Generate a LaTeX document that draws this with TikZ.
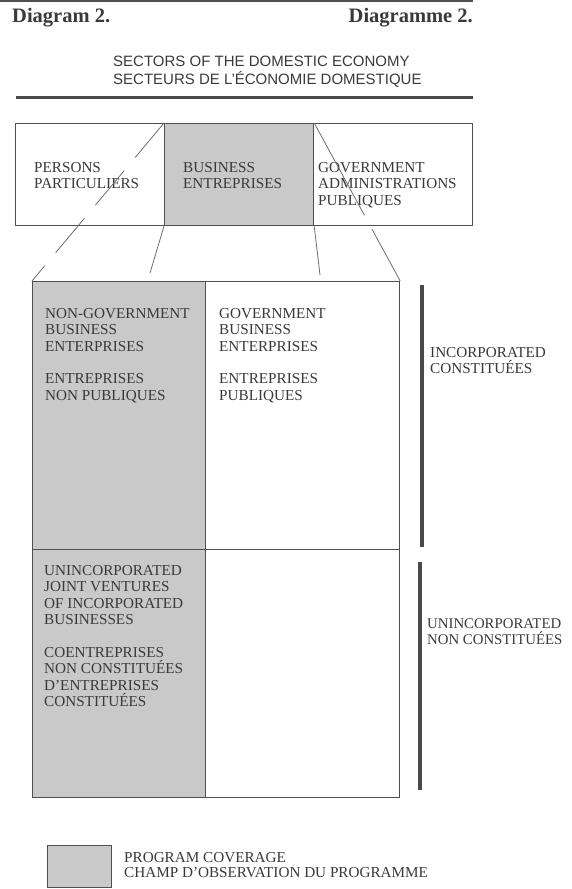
\documentclass[tikz,border=0pt]{standalone}
\usepackage{fontspec}
\setmainfont{Liberation Serif}
\setsansfont{Liberation Sans}
\definecolor{shadegray}{HTML}{C9C9C9}
\definecolor{edgegray}{HTML}{505050}
\definecolor{inkgray}{HTML}{3A3A3A}
\definecolor{linegray}{HTML}{6E6E6E}
\definecolor{bargray}{HTML}{4A4A4A}
\begin{document}
\begin{tikzpicture}[x=1pt,y=-1pt,
  cell/.style={rectangle, draw=edgegray, line width=1.2pt, inner sep=0pt, anchor=north west},
  shaded/.style={fill=shadegray},
  txt/.style={anchor=north west, inner sep=0pt, align=left, text=inkgray, font=\fontsize{15.2}{16.4}\selectfont},
  legtxt/.style={anchor=north west, inner sep=0pt, align=left, text=inkgray, font=\fontsize{15.2}{15}\selectfont},
  head/.style={inner sep=0pt, text=inkgray, font=\bfseries\fontsize{20.5}{24}\selectfont},
  proj/.style={draw=linegray, line width=0.8pt},
  bar/.style={draw=bargray, line width=4pt},
  rulestyle/.style={draw=bargray, line width=3pt}
]
\useasboundingbox (0,0) rectangle (571,889);
\fill[white] (0,0) rectangle (571,889);

% top rule and headings
\draw[draw=edgegray, line width=2.5pt] (0,1) -- (473,1);
\node[head, anchor=base west] (dgen) at (12,22) {Diagram 2.};
\node[head, anchor=base east] (dgfr) at (473,22) {Diagramme 2.};
\node[anchor=north west, inner sep=0pt, align=left, text=inkgray,
      font=\sffamily\fontsize{15}{18}\selectfont] (title) at (113,55.5)
  {SECTORS OF THE DOMESTIC ECONOMY\\SECTEURS DE L'ÉCONOMIE DOMESTIQUE};
\draw[rulestyle] (16,97) -- (473,97);

% sector boxes
\node[cell, minimum width=149pt, minimum height=102pt] (pers) at (15,123) {};
\node[cell, minimum width=159pt, minimum height=102pt] (gov) at (313,123) {};
\node[cell, shaded, minimum width=149pt, minimum height=102pt] (bus) at (164,123) {};
\node[txt] (perst) at (34,162) {PERSONS\\PARTICULIERS};
\node[txt] (bust) at (183,162) {BUSINESS\\ENTREPRISES};
\node[txt] (govt) at (318,162) {GOVERNMENT\\ADMINISTRATIONS\\PUBLIQUES};

% business breakdown
\node[cell, minimum width=194pt, minimum height=268pt] (gbe) at (205,281) {};
\node[cell, minimum width=194pt, minimum height=248pt] (ue) at (205,549) {};
\node[cell, shaded, minimum width=173pt, minimum height=268pt] (ngbe) at (32,281) {};
\node[cell, shaded, minimum width=173pt, minimum height=248pt] (ujv) at (32,549) {};

\node[txt] (ngbet) at (45,308) {NON-GOVERNMENT\\BUSINESS\\ENTERPRISES\\[16.4pt]ENTREPRISES\\NON PUBLIQUES};
\node[txt] (gbet) at (219,308) {GOVERNMENT\\BUSINESS\\ENTERPRISES\\[16.4pt]ENTREPRISES\\PUBLIQUES};
\node[txt] (ujvt) at (44,565) {UNINCORPORATED\\JOINT VENTURES\\OF INCORPORATED\\BUSINESSES\\[16.4pt]COENTREPRISES\\NON CONSTITUÉES\\D'ENTREPRISES\\CONSTITUÉES};

% projection lines
\coordinate (lend) at (150,273);
\coordinate (rend) at (320,275);
\draw[proj, dash pattern=on 45pt off 17pt] (bus.north west) -- (ngbe.north west);
\draw[proj, dash pattern=on 105pt off 16pt on 100pt off 0pt] (bus.north east) -- (gbe.north east);
\draw[proj] (bus.south west) -- (lend);
\draw[proj] (bus.south east) -- (rend);

% incorporated / unincorporated bars
\coordinate (b1a) at (422,285);
\coordinate (b1b) at (422,547);
\coordinate (b2a) at (420,562);
\coordinate (b2b) at (420,790);
\draw[bar] (b1a) -- (b1b);
\draw[bar] (b2a) -- (b2b);
\node[txt] (inct) at (430,347) {INCORPORATED\\CONSTITUÉES};
\node[txt, font=\fontsize{14.8}{16}\selectfont] (uinct) at (427,618) {UNINCORPORATED\\NON CONSTITUÉES};

% legend
\node[cell, shaded, minimum width=64pt, minimum height=42pt] (leg) at (47,845) {};
\node[legtxt] (legt) at (124,852) {PROGRAM COVERAGE\\CHAMP D'OBSERVATION DU PROGRAMME};
\end{tikzpicture}
\end{document}
